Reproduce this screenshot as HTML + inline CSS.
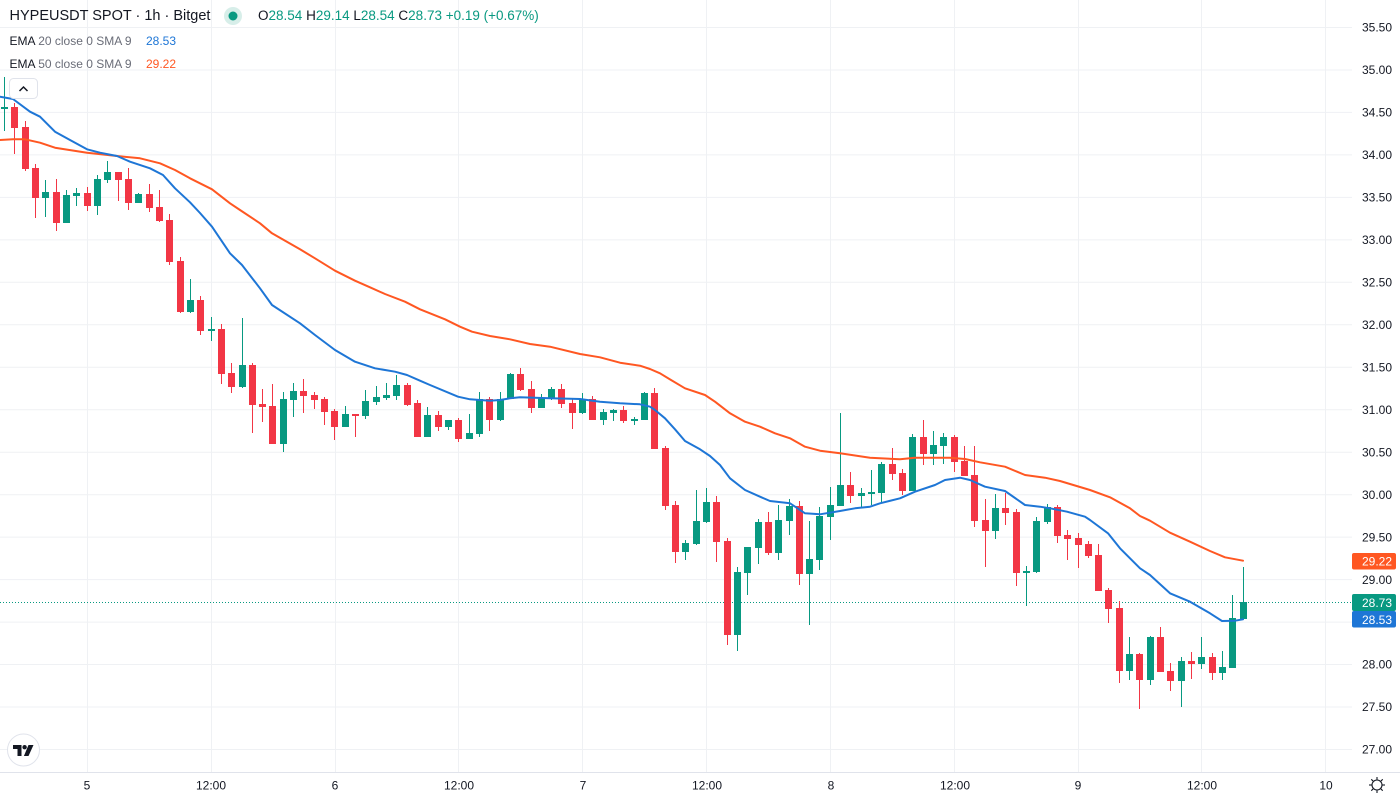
<!DOCTYPE html>
<html>
<head>
<meta charset="utf-8">
<style>
  html,body{margin:0;padding:0;background:#ffffff;}
  body{width:1400px;height:800px;overflow:hidden;position:relative;font-family:"Liberation Sans",sans-serif;}
  svg{position:absolute;left:0;top:0;}
  .hdr{position:absolute;white-space:nowrap;color:#131722;}
</style>
</head>
<body>
<svg width="1400" height="800" viewBox="0 0 1400 800" xmlns="http://www.w3.org/2000/svg">
  <rect x="0" y="0" width="1400" height="800" fill="#ffffff"/>
  <g stroke="#eff1f4" stroke-width="1">
    <line x1="0" x2="1352" y1="27.5" y2="27.5"/>
    <line x1="0" x2="1352" y1="70" y2="70"/>
    <line x1="0" x2="1352" y1="112.4" y2="112.4"/>
    <line x1="0" x2="1352" y1="154.9" y2="154.9"/>
    <line x1="0" x2="1352" y1="197.4" y2="197.4"/>
    <line x1="0" x2="1352" y1="239.9" y2="239.9"/>
    <line x1="0" x2="1352" y1="282.3" y2="282.3"/>
    <line x1="0" x2="1352" y1="324.8" y2="324.8"/>
    <line x1="0" x2="1352" y1="367.3" y2="367.3"/>
    <line x1="0" x2="1352" y1="409.7" y2="409.7"/>
    <line x1="0" x2="1352" y1="452.2" y2="452.2"/>
    <line x1="0" x2="1352" y1="494.7" y2="494.7"/>
    <line x1="0" x2="1352" y1="537.1" y2="537.1"/>
    <line x1="0" x2="1352" y1="579.6" y2="579.6"/>
    <line x1="0" x2="1352" y1="622.1" y2="622.1"/>
    <line x1="0" x2="1352" y1="664.5" y2="664.5"/>
    <line x1="0" x2="1352" y1="707" y2="707"/>
    <line x1="0" x2="1352" y1="749.5" y2="749.5"/>
  </g>
  <g stroke="#eff1f4" stroke-width="1">
    <line x1="87.5" x2="87.5" y1="0" y2="772"/>
    <line x1="211.5" x2="211.5" y1="0" y2="772"/>
    <line x1="335.5" x2="335.5" y1="0" y2="772"/>
    <line x1="458.5" x2="458.5" y1="0" y2="772"/>
    <line x1="582.5" x2="582.5" y1="0" y2="772"/>
    <line x1="706.5" x2="706.5" y1="0" y2="772"/>
    <line x1="830.5" x2="830.5" y1="0" y2="772"/>
    <line x1="954.5" x2="954.5" y1="0" y2="772"/>
    <line x1="1078.5" x2="1078.5" y1="0" y2="772"/>
    <line x1="1201.5" x2="1201.5" y1="0" y2="772"/>
    <line x1="1325.5" x2="1325.5" y1="0" y2="772"/>
  </g>

  <line x1="0" x2="1352" y1="602.5" y2="602.5" stroke="#089981" stroke-width="1" stroke-dasharray="1 2"/>

  <path fill="#089981" d="M4 77h1V131h-1zM1 107h7V109h-7zM45 180h1V217h-1zM42 192h7V198h-7zM66 190h1V223h-1zM63 195h7V223h-7zM76 188h1V206h-1zM73 193h7V196h-7zM97 175h1V215h-1zM94 179h7V206h-7zM107 161h1V183h-1zM104 172h7V180h-7zM138 193h1V203h-1zM135 194h7V203h-7zM190 279h1V313h-1zM187 300h7V312h-7zM211 317h1V341h-1zM208 329h7V331h-7zM242 318h1V388h-1zM239 365h7V387h-7zM283 392h1V452h-1zM280 399h7V444h-7zM293 383h1V417h-1zM290 391h7V400h-7zM345 406h1V427h-1zM342 414h7V427h-7zM365 390h1V419h-1zM362 401h7V416h-7zM376 386h1V405h-1zM373 397h7V402h-7zM386 383h1V400h-1zM383 395h7V398h-7zM396 375h1V400h-1zM393 385h7V396h-7zM427 407h1V437h-1zM424 415h7V437h-7zM448 420h1V430h-1zM445 420h7V427h-7zM469 414h1V439h-1zM466 433h7V439h-7zM479 392h1V437h-1zM476 399h7V434h-7zM500 392h1V421h-1zM497 399h7V420h-7zM510 373h1V399h-1zM507 374h7V399h-7zM541 394h1V408h-1zM538 398h7V408h-7zM551 387h1V400h-1zM548 389h7V399h-7zM582 393h1V414h-1zM579 399h7V413h-7zM603 409h1V425h-1zM600 412h7V420h-7zM613 409h1V421h-1zM610 410h7V413h-7zM634 417h1V425h-1zM631 419h7V421h-7zM644 392h1V420h-1zM641 393h7V420h-7zM685 540h1V560h-1zM682 543h7V552h-7zM696 490h1V545h-1zM693 521h7V544h-7zM706 488h1V523h-1zM703 502h7V522h-7zM737 567h1V651h-1zM734 572h7V635h-7zM747 547h1V595h-1zM744 547h7V573h-7zM758 519h1V564h-1zM755 522h7V548h-7zM778 505h1V560h-1zM775 520h7V553h-7zM789 499h1V535h-1zM786 506h7V521h-7zM809 521h1V625h-1zM806 559h7V574h-7zM819 507h1V570h-1zM816 516h7V560h-7zM830 487h1V540h-1zM827 505h7V517h-7zM840 413h1V506h-1zM837 485h7V506h-7zM861 488h1V507h-1zM858 493h7V496h-7zM871 470h1V505h-1zM868 492h7V494h-7zM881 462h1V502h-1zM878 464h7V493h-7zM912 434h1V491h-1zM909 437h7V491h-7zM933 431h1V465h-1zM930 445h7V454h-7zM943 433h1V464h-1zM940 437h7V446h-7zM995 494h1V539h-1zM992 508h7V531h-7zM1026 566h1V606h-1zM1023 571h7V573h-7zM1036 517h1V573h-1zM1033 521h7V572h-7zM1047 504h1V524h-1zM1044 507h7V522h-7zM1129 637h1V680h-1zM1126 654h7V671h-7zM1150 636h1V685h-1zM1147 637h7V680h-7zM1181 657h1V707h-1zM1178 661h7V681h-7zM1201 637h1V669h-1zM1198 657h7V664h-7zM1222 651h1V680h-1zM1219 667h7V673h-7zM1232 595h1V668h-1zM1229 618h7V668h-7zM1243 567h1V619h-1zM1240 602h7V619h-7z"/>

  <path fill="#f23645" d="M14 103h1V154h-1zM11 107h7V128h-7zM25 121h1V171h-1zM22 127h7V169h-7zM35 164h1V218h-1zM32 168h7V198h-7zM56 179h1V231h-1zM53 192h7V223h-7zM87 187h1V211h-1zM84 193h7V206h-7zM118 172h1V201h-1zM115 172h7V180h-7zM128 168h1V210h-1zM125 179h7V203h-7zM149 184h1V212h-1zM146 194h7V208h-7zM159 190h1V222h-1zM156 207h7V221h-7zM169 214h1V265h-1zM166 220h7V262h-7zM180 257h1V313h-1zM177 261h7V312h-7zM200 296h1V335h-1zM197 300h7V331h-7zM221 324h1V384h-1zM218 329h7V374h-7zM231 363h1V393h-1zM228 373h7V387h-7zM252 363h1V433h-1zM249 365h7V405h-7zM262 389h1V422h-1zM259 404h7V407h-7zM272 384h1V444h-1zM269 406h7V444h-7zM303 379h1V413h-1zM300 391h7V396h-7zM314 392h1V409h-1zM311 395h7V400h-7zM324 397h1V425h-1zM321 399h7V412h-7zM334 409h1V440h-1zM331 411h7V427h-7zM355 414h1V437h-1zM352 414h7V416h-7zM407 383h1V406h-1zM404 385h7V405h-7zM417 400h1V437h-1zM414 403h7V437h-7zM438 411h1V431h-1zM435 415h7V427h-7zM458 418h1V442h-1zM455 420h7V439h-7zM489 397h1V431h-1zM486 399h7V420h-7zM520 368h1V391h-1zM517 374h7V390h-7zM531 381h1V413h-1zM528 389h7V408h-7zM561 384h1V408h-1zM558 389h7V404h-7zM572 398h1V429h-1zM569 403h7V413h-7zM592 396h1V420h-1zM589 399h7V420h-7zM623 406h1V423h-1zM620 410h7V421h-7zM654 388h1V449h-1zM651 393h7V449h-7zM665 446h1V510h-1zM662 448h7V506h-7zM675 501h1V563h-1zM672 505h7V552h-7zM716 496h1V562h-1zM713 502h7V542h-7zM727 538h1V645h-1zM724 541h7V635h-7zM768 512h1V555h-1zM765 522h7V553h-7zM799 501h1V585h-1zM796 506h7V574h-7zM850 472h1V503h-1zM847 485h7V496h-7zM892 448h1V480h-1zM889 464h7V474h-7zM902 469h1V495h-1zM899 473h7V491h-7zM923 420h1V465h-1zM920 437h7V454h-7zM954 435h1V472h-1zM951 437h7V462h-7zM964 446h1V476h-1zM961 461h7V476h-7zM974 446h1V527h-1zM971 475h7V521h-7zM985 499h1V567h-1zM982 520h7V531h-7zM1005 493h1V525h-1zM1002 508h7V513h-7zM1016 509h1V586h-1zM1013 512h7V573h-7zM1057 505h1V543h-1zM1054 507h7V536h-7zM1067 530h1V560h-1zM1064 535h7V539h-7zM1078 533h1V568h-1zM1075 538h7V545h-7zM1088 541h1V558h-1zM1085 544h7V556h-7zM1098 544h1V591h-1zM1095 555h7V591h-7zM1108 588h1V623h-1zM1105 590h7V609h-7zM1119 601h1V683h-1zM1116 608h7V671h-7zM1139 653h1V709h-1zM1136 654h7V680h-7zM1160 627h1V672h-1zM1157 637h7V672h-7zM1170 663h1V691h-1zM1167 671h7V681h-7zM1191 652h1V679h-1zM1188 661h7V664h-7zM1212 653h1V680h-1zM1209 657h7V673h-7z"/>

  <polyline fill="none" stroke="#ff5722" stroke-width="2" stroke-linejoin="round" stroke-linecap="round" points="0,140 13,139.3 25,139.3 40,142.7 55,147.7 87,152.7 117,156 140,158.3 160,163.3 175,170 190,178.3 200,183.3 212,189.3 230,203.3 240,210 260,223.3 272,233.3 300,249.3 315,258.3 335,270.7 355,280.7 370,287.3 385,294 405,301.7 420,309.3 445,319.3 460,326.7 472,331.7 490,336 510,339.3 530,344 550,346.7 580,354 600,357.3 620,362.7 640,365.7 650,369 660,373.3 671,380 685,388.3 705,395 715,401.7 730,413.3 745,421.7 760,426.7 775,433.3 790,438.3 805,446.7 820,450.7 840,453.3 855,455.5 870,457.7 900,459.3 915,457.7 950,457.7 965,459 980,462.3 1005,466.7 1025,475 1045,477.7 1060,481 1090,490 1110,497.3 1130,508.3 1140,516 1150,520.7 1170,532.7 1190,541.7 1210,551 1225,557.3 1243,560.7"/>
  <polyline fill="none" stroke="#1e76d6" stroke-width="2" stroke-linejoin="round" stroke-linecap="round" points="0,96.7 13,99 30,111.7 40,116.7 55,131.7 70,140 87,149.3 100,152.7 117,156 130,161.7 150,168.3 163,175 175,188.3 190,202.3 200,213 212,226.7 230,253.3 242,265 260,288.3 272,305 300,323.3 315,335 335,350 355,361.7 375,368.3 395,371.7 407,375 420,380.7 430,385 458,396.7 470,399.3 490,400.7 500,400 510,398.3 520,397.3 550,398.3 580,399 600,401.7 620,403.3 640,404.3 650,406.7 655,410 665,418.3 675,429.3 685,441 700,449.3 710,456 720,465 730,478.3 745,490 760,496.7 770,501 790,503.3 805,513.3 820,514.3 840,511 855,508.3 870,506.7 880,503.3 900,498.3 915,491.7 935,485 945,480 960,477.7 970,480 985,486.7 1005,491 1025,505 1040,506.7 1050,508.3 1067,511.7 1085,516.7 1090,520 1108,533.3 1120,548.3 1130,558.3 1140,568.3 1150,575 1170,593.3 1190,601.7 1210,613.3 1222,621 1235,620.7 1243,619.3"/>

  <line x1="0" x2="1400" y1="772.5" y2="772.5" stroke="#e0e3eb" stroke-width="1"/>

  <g font-family="Liberation Sans, sans-serif" font-size="12" fill="#131722">
    <text x="1362" y="31.7">35.50</text>
    <text x="1362" y="74.2">35.00</text>
    <text x="1362" y="116.6">34.50</text>
    <text x="1362" y="159.1">34.00</text>
    <text x="1362" y="201.6">33.50</text>
    <text x="1362" y="244.1">33.00</text>
    <text x="1362" y="286.5">32.50</text>
    <text x="1362" y="329">32.00</text>
    <text x="1362" y="371.5">31.50</text>
    <text x="1362" y="413.9">31.00</text>
    <text x="1362" y="456.4">30.50</text>
    <text x="1362" y="498.9">30.00</text>
    <text x="1362" y="541.3">29.50</text>
    <text x="1362" y="583.8">29.00</text>
    <text x="1362" y="668.7">28.00</text>
    <text x="1362" y="711.2">27.50</text>
    <text x="1362" y="753.7">27.00</text>
  </g>

  <rect x="1352" y="553" width="44" height="16.5" rx="2" fill="#ff5722"/>
  <rect x="1352" y="594" width="44" height="17" rx="2" fill="#089981"/>
  <rect x="1352" y="611" width="44" height="16.5" rx="2" fill="#1e76d6"/>
  <g font-family="Liberation Sans, sans-serif" font-size="12" fill="#ffffff">
    <text x="1362" y="565.5">29.22</text>
    <text x="1362" y="606.8">28.73</text>
    <text x="1362" y="623.8">28.53</text>
  </g>

  <g font-family="Liberation Sans, sans-serif" font-size="12" fill="#131722" text-anchor="middle">
    <text x="87" y="789.5">5</text>
    <text x="211" y="789.5">12:00</text>
    <text x="335" y="789.5">6</text>
    <text x="459" y="789.5">12:00</text>
    <text x="583" y="789.5">7</text>
    <text x="707" y="789.5">12:00</text>
    <text x="831" y="789.5">8</text>
    <text x="955" y="789.5">12:00</text>
    <text x="1078" y="789.5">9</text>
    <text x="1202" y="789.5">12:00</text>
    <text x="1326" y="789.5">10</text>
  </g>

  <g transform="translate(1377,785)" stroke="#131722" stroke-width="1.1" fill="none">
    <circle cx="0" cy="0" r="5"/>
    <line x1="0" y1="-8" x2="0" y2="-5.5"/>
    <line x1="0" y1="5.5" x2="0" y2="8"/>
    <line x1="-8" y1="0" x2="-5.5" y2="0"/>
    <line x1="5.5" y1="0" x2="8" y2="0"/>
    <line x1="-5.7" y1="-5.7" x2="-3.9" y2="-3.9"/>
    <line x1="3.9" y1="3.9" x2="5.7" y2="5.7"/>
    <line x1="-5.7" y1="5.7" x2="-3.9" y2="3.9"/>
    <line x1="3.9" y1="-3.9" x2="5.7" y2="-5.7"/>
  </g>

  <circle cx="23.5" cy="750" r="16" fill="#ffffff" stroke="#e0e3eb" stroke-width="1"/>
  <path fill="#131722" d="M13 745h8.5v11h-4v-7h-4.5z"/>
  <circle cx="24.6" cy="747.2" r="2.2" fill="#131722"/>
  <path fill="#131722" d="M28.5 745h5l-5 11h-4.6z"/>

  <rect x="9.5" y="78.5" width="28" height="20" rx="4" fill="#ffffff" stroke="#e0e3eb" stroke-width="1"/>
  <path d="M19.5 91 L23.5 87 L27.5 91" fill="none" stroke="#131722" stroke-width="1.5"/>

  <circle cx="233" cy="16" r="9" fill="#d7eee9"/>
  <circle cx="233" cy="16" r="4.5" fill="#089981"/>
</svg>

<div class="hdr" style="left:9.5px;top:6px;font-size:14.5px;line-height:20px;">HYPEUSDT SPOT · 1h · Bitget</div>
<div class="hdr" style="left:258px;top:6px;font-size:13.5px;line-height:20px;">O<span style="color:#089981">28.54</span> H<span style="color:#089981">29.14</span> L<span style="color:#089981">28.54</span> C<span style="color:#089981">28.73</span> <span style="color:#089981">+0.19 (+0.67%)</span></div>
<div class="hdr" style="left:9.5px;top:31px;font-size:12px;line-height:20px;">EMA <span style="color:#6a6d78">20 close 0 SMA 9</span></div>
<div class="hdr" style="left:146px;top:31px;font-size:12px;line-height:20px;color:#1e76d6;">28.53</div>
<div class="hdr" style="left:9.5px;top:54px;font-size:12px;line-height:20px;">EMA <span style="color:#6a6d78">50 close 0 SMA 9</span></div>
<div class="hdr" style="left:146px;top:54px;font-size:12px;line-height:20px;color:#ff5722;">29.22</div>
</body>
</html>
